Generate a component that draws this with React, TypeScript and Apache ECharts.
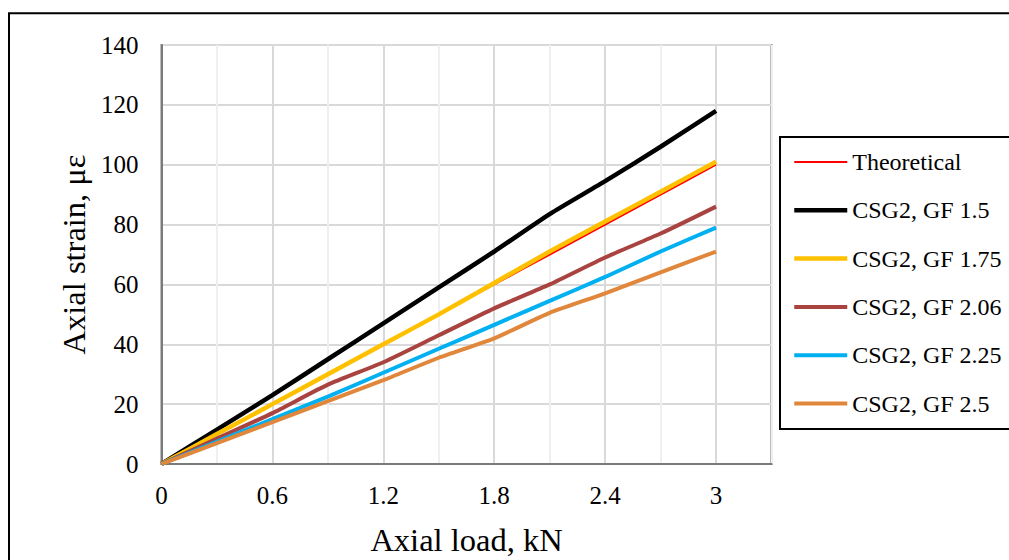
import React, { useEffect, useRef } from "react";
import * as echarts from "echarts";

// Axial load (kN) at each reading
const loadKN = [0, 0.3, 0.6, 0.9, 1.2, 1.5, 1.8, 2.1, 2.4, 2.7, 3.0];

// Axial strain (με) per gauge configuration
const theoretical = [0, 10, 20, 30, 40, 50, 60, 70, 80, 90, 100];
const csgGF150 = [0, 11.5, 23, 35, 47, 59, 71, 83.5, 94.5, 106, 118];
const csgGF175 = [0, 10, 20, 30, 40, 50, 60.5, 71, 81, 91, 101];
const csgGF206 = [0, 8.5, 17, 26.5, 34, 43, 52, 60, 69, 77, 86];
const csgGF225 = [0, 7.5, 15, 22.5, 30.5, 38.5, 46.5, 54.5, 62.5, 71, 79];
const csgGF250 = [0, 7, 14, 21, 28, 35.5, 42, 50.5, 57, 64, 71];

const seriesNames = [
  "Theoretical",
  "CSG2, GF 1.5",
  "CSG2, GF 1.75",
  "CSG2, GF 2.06",
  "CSG2, GF 2.25",
  "CSG2, GF 2.5",
];
const seriesValues = [theoretical, csgGF150, csgGF175, csgGF206, csgGF225, csgGF250];
const seriesColors = ["#FF0000", "#000000", "#FFC000", "#A9433F", "#00B0F0", "#E0873C"];
const seriesWidths = [2, 4.5, 4.5, 4, 4, 4];

const FONT = "'Liberation Serif', 'Times New Roman', serif";

export default function App() {
  const ref = useRef<HTMLDivElement>(null);

  useEffect(() => {
    if (!ref.current) return;
    const chart = echarts.init(ref.current, undefined, { renderer: "svg" });

    const series = seriesNames.map((name, i) => ({
      name,
      type: "line",
      data: loadKN.map((x, j) => [x, seriesValues[i][j]]),
      symbol: "none",
      showSymbol: false,
      smooth: 0.2,
      lineStyle: { color: seriesColors[i], width: seriesWidths[i] },
      itemStyle: { color: seriesColors[i] },
    }));

    chart.setOption({
      animation: false,
      backgroundColor: "#ffffff",
      textStyle: { fontFamily: FONT, color: "#000" },
      grid: {
        left: 161.5,
        top: 45,
        right: 237.5,
        bottom: 96,
        show: true,
        borderColor: "#7a7a7a",
        borderWidth: 2,
        outerBoundsMode: "none",
      },
      xAxis: {
        type: "value",
        min: 0,
        max: 3.3,
        interval: 0.3,
        name: "Axial load, kN",
        nameLocation: "middle",
        nameGap: 59,
        nameTextStyle: { fontFamily: FONT, fontSize: 32.5, color: "#000" },
        axisLine: { show: true, lineStyle: { color: "#7a7a7a", width: 2 } },
        axisTick: { show: false },
        axisLabel: {
          fontFamily: FONT,
          fontSize: 25,
          color: "#000",
          margin: 19,
          showMaxLabel: false,
          formatter: (v: number) => {
            const t = Math.round(v * 10);
            if (t % 6 !== 0 || t > 30) return "";
            return String(t / 10);
          },
        },
        splitLine: {
          show: true,
          lineStyle: { color: ["#d9d9d9", "#efefef"], width: 2 },
        },
      },
      yAxis: {
        type: "value",
        min: 0,
        max: 140,
        interval: 20,
        name: "Axial strain, με",
        nameLocation: "middle",
        nameGap: 67,
        nameTextStyle: { fontFamily: FONT, fontSize: 32.5, color: "#000" },
        axisLine: { show: true, lineStyle: { color: "#7a7a7a", width: 2 } },
        axisTick: { show: false },
        axisLabel: { fontFamily: FONT, fontSize: 25, color: "#000", margin: 23 },
        splitLine: { show: true, lineStyle: { color: "#d9d9d9", width: 2 } },
      },
      legend: {
        orient: "vertical",
        left: 780,
        top: 137,
        data: seriesNames,
        itemWidth: 53,
        itemHeight: 24,
        itemGap: 24.3,
        padding: [13, 9, 13.5, 12],
        borderColor: "#000",
        borderWidth: 2,
        backgroundColor: "#fff",
        itemStyle: { opacity: 0 },
        lineStyle: { width: "inherit", opacity: 1 },
        textStyle: { fontFamily: FONT, fontSize: 24, color: "#000", lineHeight: 24 },
      },
      graphic: [
        {
          type: "rect",
          silent: true,
          shape: { x: 9, y: 13.2, width: 1100, height: 600 },
          style: { fill: "none", stroke: "#000", lineWidth: 2 },
        },
      ],
      series,
    });

    return () => chart.dispose();
  }, []);

  return (
    <div
      ref={ref}
      style={{ position: "absolute", left: 0, top: 0, width: 1009, height: 560 }}
    />
  );
}
